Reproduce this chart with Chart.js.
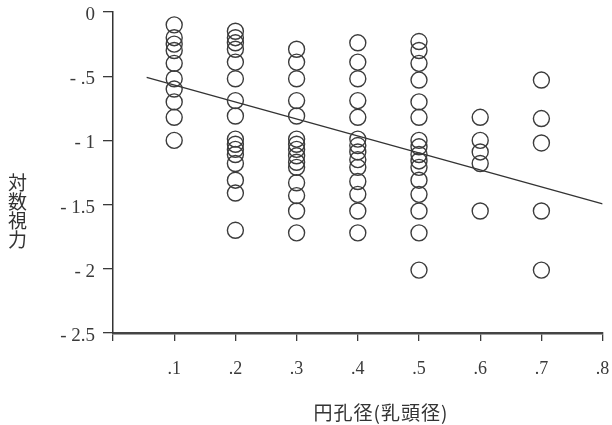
<!DOCTYPE html>
<html>
<head>
<meta charset="utf-8">
<script src="https://cdn.jsdelivr.net/npm/chart.js@4.4.1/dist/chart.umd.min.js"></script>
<style>
  html, body { margin: 0; padding: 0; background: #fff; }
  #wrap { position: relative; width: 612px; height: 425px; overflow: hidden; }
  canvas { display: block; }
  #ytitle {
    position: absolute; left: 7px; top: 173px;
    writing-mode: vertical-rl; text-orientation: upright;
    font-family: "Noto Sans CJK JP", sans-serif; font-size: 19px; line-height: 21px;
    color: #333;
  }
  #xtitle {
    position: absolute; left: 381px; top: 400px; transform: translateX(-50%);
    font-family: "Noto Sans CJK JP", sans-serif; font-size: 19px; line-height: 23px;
    letter-spacing: 1px; white-space: nowrap; color: #333;
  }
</style>
</head>
<body>
<div id="wrap">
  <canvas id="c" width="612" height="425"></canvas>
  <div id="ytitle">対数視力</div>
  <div id="xtitle">円孔径(乳頭径)</div>
</div>
<script>
// Pupil-hole diameter (disc diameters) for each column of observations
const diameters = [0.1, 0.2, 0.3, 0.4, 0.5, 0.6, 0.7];

// Log visual acuity of each eye, grouped by hole diameter
const logVA_01 = [-0.10, -0.20, -0.25, -0.30, -0.40, -0.52, -0.60, -0.70, -0.82, -1.00];
const logVA_02 = [-0.15, -0.20, -0.24, -0.29, -0.39, -0.52, -0.69, -0.81, -0.99, -1.03, -1.07, -1.11, -1.18, -1.31, -1.41, -1.70];
const logVA_03 = [-0.29, -0.39, -0.52, -0.69, -0.81, -0.99, -1.03, -1.07, -1.12, -1.17, -1.21, -1.33, -1.43, -1.55, -1.72];
const logVA_04 = [-0.24, -0.39, -0.52, -0.69, -0.82, -0.99, -1.04, -1.09, -1.15, -1.21, -1.32, -1.42, -1.55, -1.72];
const logVA_05 = [-0.23, -0.30, -0.40, -0.53, -0.70, -0.82, -1.00, -1.05, -1.11, -1.16, -1.21, -1.31, -1.42, -1.55, -1.72, -2.01];
const logVA_06 = [-0.82, -1.00, -1.09, -1.18, -1.55];
const logVA_07 = [-0.53, -0.83, -1.02, -1.55, -2.01];
const groups = [logVA_01, logVA_02, logVA_03, logVA_04, logVA_05, logVA_06, logVA_07];

// Regression line end points
const fitX = [0.055, 0.8];
const fitY = [-0.51, -1.495];

// Axis ticks
const xTickValues = [0, 0.1, 0.2, 0.3, 0.4, 0.5, 0.6, 0.7, 0.8];
const xTickLabels = ['', '.1', '.2', '.3', '.4', '.5', '.6', '.7', '.8'];
const yTickValues = [-2.5, -2, -1.5, -1, -0.5, 0];
const yTickLabels = ['- 2.5', '- 2', '- 1.5', '- 1', '- .5', '0'];

const points = [];
groups.forEach((vals, i) => vals.forEach(v => points.push({ x: diameters[i], y: v })));
const fitLine = fitX.map((x, i) => ({ x: x, y: fitY[i] }));

const ink = '#3a3a3a';

new Chart(document.getElementById('c'), {
  type: 'scatter',
  data: {
    datasets: [
      {
        data: points,
        pointStyle: 'circle',
        pointRadius: 8,
        pointBorderWidth: 1.4,
        pointBorderColor: '#3c3c3c',
        pointBackgroundColor: 'rgba(0,0,0,0)',
        showLine: false
      },
      {
        data: fitLine,
        showLine: true,
        borderColor: '#333',
        borderWidth: 1.3,
        pointRadius: 0,
        fill: false
      }
    ]
  },
  options: {
    responsive: false,
    animation: false,
    layout: { padding: { top: 12, right: 2, left: 0, bottom: 0 } },
    plugins: { legend: { display: false }, tooltip: { enabled: false } },
    scales: {
      x: {
        type: 'linear',
        min: 0, max: 0.8,
        afterBuildTicks: s => { s.ticks = xTickValues.map(v => ({ value: v })); },
        afterFit: s => { s.height = 92; s.paddingLeft = 0; s.paddingRight = 0; },
        grid: { drawOnChartArea: false, drawTicks: true, tickLength: 8, color: ink, lineWidth: 1.3 },
        border: { display: true, color: '#444', width: 2.5 },
        ticks: {
          autoSkip: false, maxRotation: 0, padding: 17, color: ink,
          font: { family: '"Liberation Serif", serif', size: 18 },
          callback: (v, i) => xTickLabels[i]
        }
      },
      y: {
        type: 'linear',
        min: -2.5, max: 0,
        afterBuildTicks: s => { s.ticks = yTickValues.map(v => ({ value: v })); },
        afterFit: s => { s.width = 113; s.paddingTop = 0; s.paddingBottom = 0; },
        grid: { drawOnChartArea: false, drawTicks: true, tickLength: 10, color: ink, lineWidth: 1.3 },
        border: { display: true, color: '#333', width: 1.5 },
        ticks: {
          autoSkip: false, padding: 8, color: ink, labelOffset: 3,
          font: { family: '"Liberation Serif", serif', size: 19 },
          callback: (v, i) => yTickLabels[i]
        }
      }
    }
  }
});
</script>
</body>
</html>
